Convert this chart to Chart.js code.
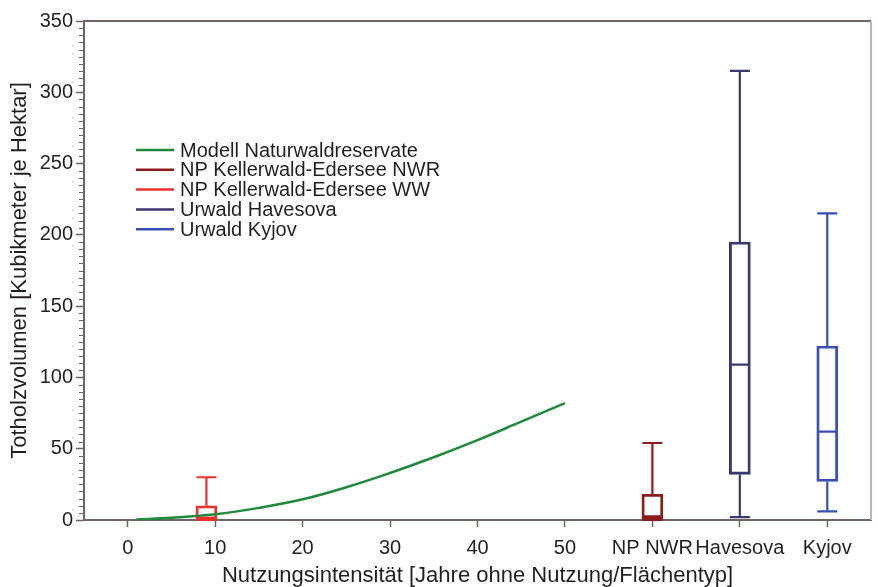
<!DOCTYPE html>
<html>
<head>
<meta charset="utf-8">
<script src="https://cdn.jsdelivr.net/npm/chart.js@4.4.1/dist/chart.umd.min.js"></script>
<style>
html, body { margin: 0; padding: 0; background: #fff; }
#wrap { position: relative; width: 878px; height: 587px; }
</style>
</head>
<body>
<div id="wrap"><canvas id="c" width="878" height="587"></canvas></div>
<script>
// model curve: years without use -> deadwood volume
const modelYears = [1, 5, 10, 15, 20, 25, 30, 35, 40, 45, 50];
const modelVolume = [0.3, 1.5, 4, 8.5, 14.5, 23, 33, 44, 56, 69, 82];

// box plots (x position, min, q1, median, q3, max)
const boxNames = ['NP Kellerwald-Edersee NWR', 'NP Kellerwald-Edersee WW', 'Urwald Havesova', 'Urwald Kyjov'];
const boxX = [60, 9, 70, 80];
const boxMin = [0, 0, 2, 6];
const boxQ1 = [0.5, 0.5, 32, 27];
const boxMedian = [2.5, 1.5, 109, 62];
const boxQ3 = [18, 10, 195, 122];
const boxMax = [54, 30, 315, 215];
const boxColors = ['#8c1c1c', '#e8322b', '#38386f', '#3a4fb5'];

const xTickValues = [0, 10, 20, 30, 40, 50, 60, 70, 80];
const xTickLabels = ['0', '10', '20', '30', '40', '50', 'NP NWR', 'Havesova', 'Kyjov'];

const FONT = 'Liberation Sans, Arial, sans-serif';
const TEXT = '#231f20';
const AXIS = '#6e6563';

// whiskers, caps and median lines
const boxPlot = {
  id: 'boxPlot',
  afterDatasetsDraw(chart) {
    const ctx = chart.ctx, xs = chart.scales.x, ys = chart.scales.y;
    boxX.forEach((v, i) => {
      const x = xs.getPixelForValue(v);
      const half = 10;
      const yMin = ys.getPixelForValue(boxMin[i]);
      const yMax = ys.getPixelForValue(boxMax[i]);
      const yMed = ys.getPixelForValue(boxMedian[i]);
      ctx.save();
      ctx.strokeStyle = boxColors[i];
      ctx.lineWidth = 2.2;
      ctx.beginPath();
      ctx.moveTo(x, yMin); ctx.lineTo(x, ys.getPixelForValue(boxQ1[i]));
      ctx.moveTo(x, ys.getPixelForValue(boxQ3[i])); ctx.lineTo(x, yMax);
      ctx.moveTo(x - half, yMin); ctx.lineTo(x + half, yMin);
      ctx.moveTo(x - half, yMax); ctx.lineTo(x + half, yMax);
      ctx.moveTo(x - half, yMed); ctx.lineTo(x + half, yMed);
      ctx.stroke();
      ctx.restore();
    });
  }
};

// frame, minor ticks and legend
const extras = {
  id: 'extras',
  afterDraw(chart) {
    const ctx = chart.ctx, a = chart.chartArea, ys = chart.scales.y;
    ctx.save();
    ctx.lineWidth = 2;
    ctx.strokeStyle = AXIS;
    ctx.beginPath();
    ctx.moveTo(a.left, a.top); ctx.lineTo(a.right, a.top);
    ctx.stroke();
    ctx.strokeStyle = '#bfb6b5';
    ctx.beginPath();
    ctx.moveTo(a.right, a.top); ctx.lineTo(a.right, a.bottom);
    ctx.stroke();
    // minor ticks every 5
    ctx.strokeStyle = AXIS;
    ctx.lineWidth = 1.2;
    ctx.beginPath();
    for (let v = 5; v < 350; v += 5) {
      if (v % 50 === 0) continue;
      const y = Math.round(ys.getPixelForValue(v)) + 0.5;
      ctx.moveTo(a.left - 5, y); ctx.lineTo(a.left, y);
    }
    ctx.stroke();
    // legend
    ctx.font = '20px ' + FONT;
    ctx.textBaseline = 'middle';
    ctx.fillStyle = TEXT;
    chart.data.datasets.forEach((ds, i) => {
      const y = 150 + i * 19.8;
      ctx.strokeStyle = ds.borderColor;
      ctx.lineWidth = 2.5;
      ctx.beginPath();
      ctx.moveTo(136, y); ctx.lineTo(174, y);
      ctx.stroke();
      ctx.fillText(ds.label, 180, y + 1);
    });
    ctx.restore();
  }
};

new Chart(document.getElementById('c'), {
  data: {
    datasets: [
      {
        type: 'line',
        label: 'Modell Naturwaldreservate',
        data: modelYears.map((x, i) => ({ x: x, y: modelVolume[i] })),
        borderColor: '#1f8a3b',
        borderWidth: 2.5,
        pointRadius: 0,
        tension: 0.4,
        fill: false
      },
      ...boxNames.map((name, i) => ({
        type: 'bar',
        label: name,
        data: [{ x: boxX[i], y: [boxQ1[i], boxQ3[i]] }],
        borderColor: boxColors[i],
        backgroundColor: 'rgba(0,0,0,0)',
        borderWidth: 2.2,
        borderSkipped: false,
        barThickness: 21,
        grouped: false
      }))
    ]
  },
  options: {
    responsive: false,
    animation: false,
    layout: { padding: { top: 21, right: 7, left: 0, bottom: 0 } },
    plugins: { legend: { display: false }, tooltip: { enabled: false } },
    scales: {
      x: {
        type: 'linear',
        min: -5,
        max: 85,
        offset: false,
        afterBuildTicks: s => { s.ticks = xTickValues.map(v => ({ value: v })); },
        afterFit: s => { s.height = 67; },
        ticks: {
          callback: v => xTickLabels[xTickValues.indexOf(v)],
          font: { family: FONT, size: 20 },
          color: TEXT,
          padding: 9,
          maxRotation: 0,
          autoSkip: false
        },
        grid: { drawOnChartArea: false, offset: false, tickLength: 7, tickColor: AXIS, tickWidth: 1.5 },
        border: { color: AXIS, width: 2 },
        title: {
          display: true,
          text: 'Nutzungsintensität [Jahre ohne Nutzung/Flächentyp]',
          font: { family: FONT, size: 22, lineHeight: 1 },
          color: TEXT,
          padding: { top: 2, bottom: 0 }
        }
      },
      y: {
        type: 'linear',
        min: 0,
        max: 350,
        afterFit: s => { s.width = 84; },
        ticks: {
          stepSize: 50,
          font: { family: FONT, size: 20 },
          color: TEXT,
          padding: 3
        },
        grid: { drawOnChartArea: false, tickLength: 8, tickColor: AXIS, tickWidth: 1.5 },
        border: { color: AXIS, width: 2 },
        title: {
          display: true,
          text: 'Totholzvolumen [Kubikmeter je Hektar]',
          font: { family: FONT, size: 22, lineHeight: 1 },
          color: TEXT,
          padding: { top: 9, bottom: 0 }
        }
      }
    }
  },
  plugins: [boxPlot, extras]
});
</script>
</body>
</html>
